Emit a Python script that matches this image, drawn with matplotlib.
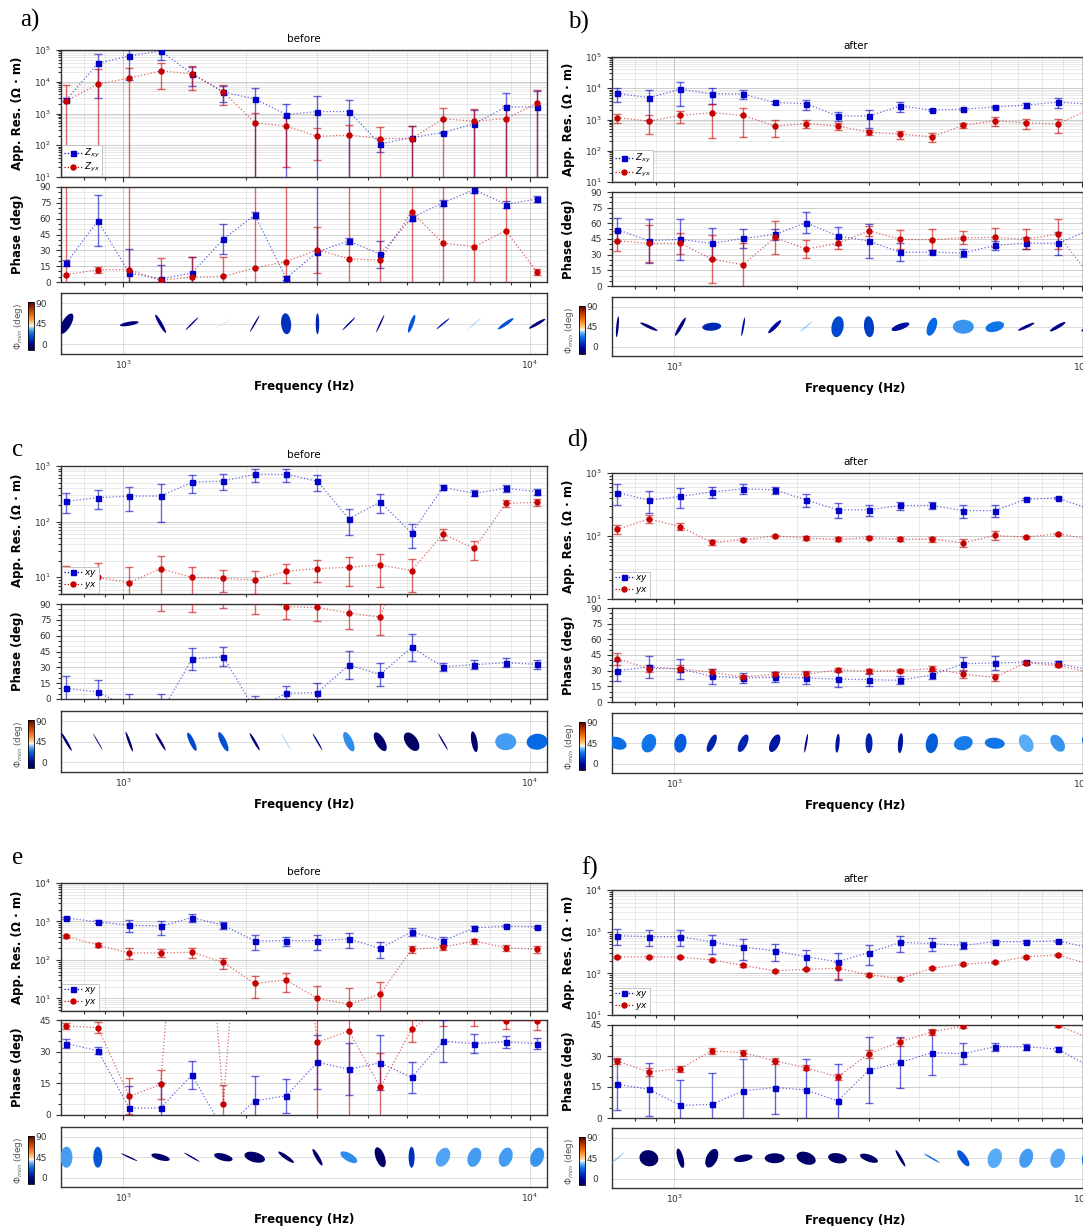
import numpy as np
import matplotlib
matplotlib.use('Agg')
import matplotlib.pyplot as plt
import matplotlib.transforms as mtransforms
from matplotlib.patches import Ellipse
from matplotlib.lines import Line2D
from matplotlib.colors import LinearSegmentedColormap, Normalize
from matplotlib.cm import ScalarMappable
from matplotlib.ticker import MultipleLocator, NullFormatter, LogLocator, FixedLocator

# --- frequencies (Hz), shared by all panels ---
freq = [725, 866, 1035, 1236, 1476, 1764, 2107, 2517, 3007, 3592, 4291, 5126, 6124, 7315, 8739, 10440]

# --- a) before ---
a_res_xy = [2700, 38000, 65000, 93000, 18000, 4700, 2900, 930, 1150, 1150, 110, 175, 250, 480, 1600, 1600]
a_res_xy_err = [300, 35000, 54000, 45000, 10600, 2400, 3300, 1100, 2300, 1600, 48, 225, 10, 800, 2700, 3700]
a_res_yx = [2500, 8500, 13000, 22000, 18000, 4800, 510, 400, 190, 210, 163, 163, 680, 570, 690, 2100]
a_res_yx_err = [5300, 17500, 14500, 16000, 12500, 3000, 540, 380, 155, 240, 220, 240, 820, 830, 1060, 3400]
a_phs_xy = [18, 58, 8.5, 3, 8.5, 40.5, 63.6, 3.5, 28.8, 38.9, 26.3, 60.8, 75, 87.5, 73.4, 78.7]
a_phs_xy_err = [3, 24, 23, 13, 15.5, 14, 3, 2, 70, 3, 13, 3, 3, 3, 3, 3]
a_phs_yx = [6.9, 11.6, 11.6, 1.6, 4.7, 5.3, 13.2, 19.4, 30.4, 22, 20.7, 66.5, 36.7, 33.5, 48.6, 9.4]
a_phs_yx_err = [90, 3, 90, 21, 19, 18, 90, 90, 21.5, 90, 90, 90, 90, 90, 90, 3]
a_ell_major = [23, 2, 19, 21, 18, 18, 19, 21, 21, 18, 19, 19, 17, 17, 19, 19]
a_ell_minor = [9, 0.5, 4, 3.5, 1.5, 1, 1.5, 10, 3.5, 1.5, 1.5, 4, 1.5, 1, 3.5, 3]
a_ell_angle = [60, 30, 10, -60, 45, 30, 60, 95, 90, 45, 65, 70, 40, 40, 35, 30]
a_ell_phimin = [5, 46, 6, 10, 12, 44, 8, 20, 18, 12, 10, 27, 14, 42, 26, 8]

# --- b) after ---
b_res_xy = [6800, 5000, 9300, 6600, 6500, 3500, 3200, 1300, 1300, 2700, 2000, 2150, 2500, 2900, 3600, 3100]
b_res_xy_err = [3300, 4000, 6600, 3500, 2000, 400, 1150, 430, 780, 900, 150, 200, 250, 500, 1300, 1800]
b_res_yx = [1150, 890, 1350, 1650, 1350, 620, 740, 620, 390, 340, 280, 650, 910, 780, 720, 2100]
b_res_yx_err = [350, 550, 550, 1400, 1070, 350, 200, 170, 70, 100, 95, 130, 280, 270, 350, 800]
b_phs_xy = [54, 43.3, 44.6, 40.8, 45.5, 49.4, 60.5, 48, 43, 32.2, 32.5, 31.5, 38.9, 41.1, 40.8, 53.5]
b_phs_xy_err = [11, 21, 19.5, 15, 9, 5, 10, 8.7, 16, 8.7, 2, 4, 4, 6, 10.7, 16]
b_phs_yx = [43.3, 40.8, 40.8, 25.8, 20.4, 46.5, 35.4, 40.8, 52.9, 44.6, 44.3, 46.2, 46.5, 44.9, 49.7, 10.5]
b_phs_yx_err = [9.5, 17.5, 10.3, 23, 21, 15.6, 8.3, 5, 5, 8.7, 10, 6, 8.9, 9.5, 14, 12]
b_ell_major = [21, 19, 21, 19, 19, 18, 16, 21, 21, 19, 19, 21, 19, 18, 18, 18]
b_ell_minor = [2.5, 3, 3.5, 8, 2, 4, 1, 12, 10, 6, 9, 14, 10, 3, 3.5, 3.5]
b_ell_angle = [85, -25, 60, 5, 80, 45, 40, 80, 95, 20, 70, 0, 15, 25, 30, 30]
b_ell_phimin = [8, 6, 8, 18, 14, 12, 40, 24, 22, 14, 30, 36, 32, 10, 10, 10]

# --- c) before ---
c_res_xy = [232, 270, 288, 288, 509, 538, 710, 710, 530, 113, 226, 62, 413, 323, 397, 346]
c_res_xy_err = [91, 100, 130, 190, 185, 175, 185, 190, 170, 55, 85, 29, 50, 40, 60, 45]
c_res_yx = [9.5, 9.9, 8.0, 14.3, 9.9, 9.5, 9.0, 12.8, 14.3, 15.1, 16.6, 13.2, 60, 33, 213, 222]
c_res_yx_err = [6.5, 8, 7, 10, 5.7, 4.1, 4, 4.8, 6, 8, 10, 7.8, 14, 12.5, 30, 33]
c_phs_xy = [10.1, 6.6, -8.4, -14, 37.9, 40, -10, 5.4, 6, 32.2, 23.3, 48.9, 30.6, 32.5, 34.4, 32.8]
c_phs_xy_err = [11.7, 11.4, 12.8, 18.4, 10.3, 9, 13, 7, 8.8, 13.2, 10.7, 13, 3.6, 4, 4, 4]
c_phs_yx = [105, 100, 98, 96, 95, 94, 93, 87.4, 86.7, 81.5, 77.6, 155, 150, 150, 150, 150]
c_phs_yx_err = [5, 5, 5, 12.5, 13, 7.6, 12.8, 12, 12.7, 15.5, 17.2, 10, 10, 10, 10, 10]
c_ell_major = [21, 19, 21, 20, 20, 21, 20, 19, 19, 21, 21, 21, 19, 21, 21, 21]
c_ell_minor = [2.5, 1, 2.5, 2.5, 5, 6, 2.5, 1, 1.5, 8, 9, 12, 1.5, 6, 17, 16]
c_ell_angle = [-60, -60, -70, -60, -65, -65, -60, -60, -60, -65, -60, -55, -60, -80, 0, 5]
c_ell_phimin = [6, 8, 4, 6, 24, 26, 6, 42, 10, 35, 4, 2, 10, 3, 37, 30]

# --- d) after ---
d_res_xy = [490, 370, 425, 500, 560, 540, 375, 260, 260, 305, 305, 253, 253, 385, 400, 270]
d_res_xy_err = [180, 140, 145, 100, 100, 70, 85, 70, 55, 45, 40, 60, 55, 15, 15, 15]
d_res_yx = [128, 187, 141, 79, 87, 100, 93, 89, 94, 89, 89, 78, 102, 96, 109, 89]
d_res_yx_err = [20, 25, 18, 8, 5, 5, 6, 7, 6, 7, 8, 12, 16, 4, 4, 4]
d_phs_xy = [30, 33.5, 31.6, 24.6, 23, 23.6, 23, 22, 21.4, 20.8, 25.9, 36.7, 37.4, 38, 37, 30.7]
d_phs_xy_err = [9.7, 10.5, 10, 7, 4.8, 4.8, 6.2, 7.5, 5.8, 4, 4, 6.7, 6.4, 1.5, 2, 2]
d_phs_yx = [41.2, 32, 32, 28.4, 24, 26.5, 26.5, 30.7, 29.7, 30, 32, 26.8, 23.6, 37.7, 35.1, 28.4]
d_phs_yx_err = [5.8, 3.7, 3, 3.2, 2, 2, 3, 2, 2, 1.5, 2.3, 3.4, 3.6, 1.5, 1.5, 1.5]
d_ell_major = [19, 19, 19, 19, 19, 19, 19, 19, 20, 20, 20, 19, 20, 19, 19, 19]
d_ell_minor = [12, 14, 12, 7, 8, 9, 2, 4, 7, 5, 12, 14, 11, 13, 12, 12]
d_ell_angle = [-20, 70, 80, 65, 65, 65, 80, 85, 90, 85, 80, 15, -5, -60, -55, -60]
d_ell_phimin = [31, 32, 28, 17, 17, 15, 10, 14, 17, 15, 28, 33, 32, 39, 36, 30]

# --- e) before ---
e_res_xy = [1230, 980, 800, 755, 1260, 800, 310, 317, 317, 353, 199, 538, 315, 680, 755, 725]
e_res_xy_err = [100, 80, 280, 300, 300, 170, 130, 80, 140, 145, 90, 120, 70, 100, 50, 60]
e_res_yx = [413, 242, 152, 152, 158, 86, 24.4, 30, 10, 7, 13, 187, 215, 310, 206, 190]
e_res_yx_err = [40, 30, 47, 35, 45, 27, 14, 15, 11, 12, 13, 40, 35, 45, 35, 35]
e_phs_xy = [33.8, 30.5, 3.3, 3.3, 19, -7, 6.7, 9.1, 25, 21.7, 24.7, 17.8, 34.9, 33.8, 34.6, 33.8]
e_phs_xy_err = [2, 1.8, 10.5, 12, 6.5, 3, 12, 8, 12.8, 12.3, 13, 7.5, 10, 4.5, 3, 2.5]
e_phs_yx = [42.2, 41.4, 8.8, 14.5, 200, 5, 200, 150, 34.4, 39.8, 13.1, 40.6, 51, 49, 44.5, 44.5]
e_phs_yx_err = [1.5, 2.5, 8.5, 6.7, 10, 9.3, 10, 10, 40, 42, 16.5, 6, 9, 6.8, 3.7, 4]
e_ell_major = [21, 21, 18, 19, 18, 19, 21, 19, 19, 19, 21, 21, 20, 20, 20, 20]
e_ell_minor = [12, 9, 1.5, 6, 1.5, 7, 10, 4, 4, 8, 9, 6, 13, 13, 13, 13]
e_ell_angle = [90, 90, -25, -15, -30, -15, -15, -35, -60, -30, -70, 90, 65, 70, 70, 70]
e_ell_phimin = [37, 27, 6, 4, 8, 4, 3, 4, 4, 35, 3, 20, 38, 37, 37, 36]

# --- f) after ---
f_res_xy = [800, 760, 760, 565, 430, 345, 250, 190, 315, 555, 515, 470, 575, 575, 600, 415]
f_res_xy_err = [330, 310, 310, 270, 220, 150, 120, 120, 160, 230, 180, 80, 40, 40, 40, 30]
f_res_yx = [250, 250, 245, 210, 155, 115, 125, 132, 92, 75, 132, 166, 183, 250, 275, 166]
f_res_yx_err = [15, 15, 15, 15, 10, 8, 8, 60, 8, 6, 8, 10, 10, 15, 15, 10]
f_phs_xy = [16.3, 13.9, 6.1, 6.6, 13.1, 14.7, 13.6, 8.3, 23.1, 26.9, 31.6, 31.1, 34.5, 34.5, 33.3, 25]
f_phs_xy_err = [12.3, 12.7, 12.2, 15, 15.4, 12.7, 15, 17.7, 15.9, 12.2, 10.8, 5.2, 2, 1.5, 1, 2.5]
f_phs_yx = [27.5, 22.3, 23.9, 32.5, 31.6, 27.7, 24.3, 19.9, 31.1, 36.9, 41.7, 44.5, 47, 48, 45, 38.5]
f_phs_yx_err = [1.5, 1.8, 1.5, 1.5, 1.5, 1.5, 1.2, 1.5, 2, 2, 1.5, 1, 1, 1, 1, 1]
f_ell_major = [18, 19, 20, 20, 19, 20, 20, 19, 19, 19, 18, 19, 20, 20, 20, 20]
f_ell_minor = [1, 16, 6, 11, 7, 10, 12, 10, 7, 3, 1.5, 7, 14, 13, 14, 14]
f_ell_angle = [40, -15, -75, 65, 10, 0, -20, -10, -20, -60, -30, -55, 75, 70, 70, 75]
f_ell_phimin = [40, 3, 4, 4, 4, 3, 3, 3, 3, 4, 30, 27, 39, 37, 38, 32]

# --- figure setup ---
W, H = 1083, 1226
fig = plt.figure(figsize=(W / 100, H / 100), dpi=100)
plt.rcParams['font.family'] = ['DejaVu Sans']

C_XY = (0.0, 0.0, 0.78)
C_YX = (0.78, 0.0, 0.0)
TXT = '#333333'

cmap = LinearSegmentedColormap.from_list('phimin', [
    (0.0, '#00005a'), (0.12, '#000090'), (0.25, '#0040c8'), (0.35, '#0a70e8'),
    (0.43, '#55aaf5'), (0.49, '#cfe6ff'), (0.5, '#ffffff'), (0.53, '#ffe2b0'),
    (0.66, '#ff9020'), (0.82, '#cc4000'), (1.0, '#5a0000')])
norm = Normalize(0, 90)
XLIM = (703, 11040)


def px_axes(x0, x1, y0, y1):
    return fig.add_axes([x0 / W, 1 - y1 / H, (x1 - x0) / W, (y1 - y0) / H])


def base_style(ax):
    ax.set_xscale('log')
    ax.set_xlim(*XLIM)
    ax.grid(True, which='major', color=(.25, .25, .25), alpha=.3, lw=.6)
    ax.grid(True, which='minor', color=(.25, .25, .25), alpha=.15, lw=.5)
    ax.tick_params(which='both', labelsize=6.5, colors=TXT, width=.8)
    ax.tick_params(which='major', length=3.5)
    ax.tick_params(which='minor', length=2)
    for s in ax.spines.values():
        s.set_color(TXT)
        s.set_linewidth(1.0)
    ax.tick_params(axis='x', labelbottom=False)


def draw_series(ax, y, err, color, marker):
    ax.errorbar(freq, y, yerr=err, fmt='none', ecolor=color, elinewidth=1,
                capsize=3, capthick=1, alpha=.6, zorder=3)
    ax.plot(freq, y, ls=':', lw=.9, color=color, alpha=.6, zorder=4)
    ax.plot(freq, y, ls='none', marker=marker, ms=3.6, color=color, zorder=5)


def panel(x0, x1, res_y, phs_y, ell_y, title, letter, letter_xy, res_lim, phs_max,
          labels, res_xy, res_xy_err, res_yx, res_yx_err, phs_xy, phs_xy_err,
          phs_yx, phs_yx_err, ell_major, ell_minor, ell_angle, ell_phimin):
    lab_x = -37 / (x1 - x0)

    # apparent resistivity
    ax1 = px_axes(x0, x1, *res_y)
    base_style(ax1)
    ax1.set_yscale('log')
    draw_series(ax1, res_xy, res_xy_err, C_XY, 's')
    draw_series(ax1, res_yx, res_yx_err, C_YX, 'o')
    ax1.set_ylim(*res_lim)
    ax1.yaxis.set_major_locator(LogLocator(base=10))
    ax1.yaxis.set_minor_locator(LogLocator(base=10, subs=np.arange(2, 10)))
    ax1.yaxis.set_minor_formatter(NullFormatter())
    ax1.set_ylabel('App. Res. (Ω · m)', fontsize=8.5, fontweight='bold')
    ax1.yaxis.set_label_coords(lab_x, 0.5)
    ax1.set_title(title, fontsize=7.5, pad=6)
    handles = [Line2D([], [], color=C_XY, ls=':', marker='s', ms=3.6, lw=.9),
               Line2D([], [], color=C_YX, ls=':', marker='o', ms=3.6, lw=.9)]
    leg = ax1.legend(handles, labels, loc='lower left', fontsize=6.5, labelspacing=.1,
                     borderpad=.2, handlelength=2.0, handletextpad=.3, borderaxespad=.1,
                     framealpha=1, fancybox=False)
    leg.get_frame().set_edgecolor('#bbbbbb')
    leg.get_frame().set_linewidth(.6)

    # phase
    ax2 = px_axes(x0, x1, *phs_y)
    base_style(ax2)
    draw_series(ax2, phs_xy, phs_xy_err, C_XY, 's')
    draw_series(ax2, phs_yx, phs_yx_err, C_YX, 'o')
    ax2.set_ylim(0, phs_max)
    ax2.yaxis.set_major_locator(MultipleLocator(15))
    ax2.yaxis.set_minor_locator(MultipleLocator(5))
    ax2.set_ylabel('Phase (deg)', fontsize=8.5, fontweight='bold')
    ax2.yaxis.set_label_coords(lab_x, 0.5)

    # phase tensor ellipses
    ax3 = px_axes(x0, x1, *ell_y)
    ax3.set_xscale('log')
    ax3.set_autoscale_on(False)
    ax3.set_xlim(*XLIM)
    ax3.set_ylim(-21, 112)
    for f, mj, mn, ang, pm in zip(freq, ell_major, ell_minor, ell_angle, ell_phimin):
        tr = fig.dpi_scale_trans + mtransforms.ScaledTranslation(f, 45, ax3.transData)
        ax3.add_patch(Ellipse((0, 0), mj / 100, mn / 100, angle=ang, transform=tr,
                              facecolor=cmap(norm(pm)), edgecolor='none', zorder=3))
    ax3.yaxis.set_major_locator(FixedLocator([0, 45, 90]))
    ax3.xaxis.set_minor_formatter(NullFormatter())
    ax3.tick_params(which='both', length=0, labelsize=6.5, colors=TXT)
    ax3.tick_params(axis='y', pad=10)
    ax3.grid(True, which='major', color=(.25, .25, .25), alpha=.2, lw=.6)
    for s in ax3.spines.values():
        s.set_color(TXT)
        s.set_linewidth(1.0)
    ax3.set_xlabel('Frequency (Hz)', fontsize=8.5, fontweight='bold', labelpad=6)

    # colorbar
    cax = px_axes(x0 - 33, x0 - 27.5, ell_y[0] + 9, ell_y[0] + 57)
    cb = fig.colorbar(ScalarMappable(norm=norm, cmap=cmap), cax=cax, ticks=[])
    cb.outline.set_linewidth(.6)
    cax.set_ylabel('$\\Phi_{min}$ (deg)', fontsize=6.5, color='#555555', labelpad=2)
    cax.yaxis.set_label_position('left')

    fig.text(letter_xy[0] / W, 1 - letter_xy[1] / H, letter, fontsize=18,
             family='Liberation Serif', ha='center', va='center')


panel(61, 547, (50, 177), (187, 282), (293, 354), 'before', 'a)', (30, 20), (10, 1e5), 90,
      ['$Z_{xy}$', '$Z_{yx}$'], a_res_xy, a_res_xy_err, a_res_yx, a_res_yx_err,
      a_phs_xy, a_phs_xy_err, a_phs_yx, a_phs_yx_err,
      a_ell_major, a_ell_minor, a_ell_angle, a_ell_phimin)
panel(612, 1099, (57, 182), (192, 286), (297, 356), 'after', 'b)', (578, 22), (10, 1e5), 90,
      ['$Z_{xy}$', '$Z_{yx}$'], b_res_xy, b_res_xy_err, b_res_yx, b_res_yx_err,
      b_phs_xy, b_phs_xy_err, b_phs_yx, b_phs_yx_err,
      b_ell_major, b_ell_minor, b_ell_angle, b_ell_phimin)
panel(61, 547, (466, 594), (604, 699), (711, 772), 'before', 'c', (18, 450), (5, 1e3), 90,
      ['$xy$', '$yx$'], c_res_xy, c_res_xy_err, c_res_yx, c_res_yx_err,
      c_phs_xy, c_phs_xy_err, c_phs_yx, c_phs_yx_err,
      c_ell_major, c_ell_minor, c_ell_angle, c_ell_phimin)
panel(612, 1099, (473, 599), (608, 702), (713, 773), 'after', 'd)', (578, 440), (10, 1e3), 90,
      ['$xy$', '$yx$'], d_res_xy, d_res_xy_err, d_res_yx, d_res_yx_err,
      d_phs_xy, d_phs_xy_err, d_phs_yx, d_phs_yx_err,
      d_ell_major, d_ell_minor, d_ell_angle, d_ell_phimin)
panel(61, 547, (883, 1011), (1020, 1115), (1127, 1187), 'before', 'e', (18, 858), (4.7, 1e4), 45,
      ['$xy$', '$yx$'], e_res_xy, e_res_xy_err, e_res_yx, e_res_yx_err,
      e_phs_xy, e_phs_xy_err, e_phs_yx, e_phs_yx_err,
      e_ell_major, e_ell_minor, e_ell_angle, e_ell_phimin)
panel(612, 1099, (890, 1015), (1025, 1118), (1128, 1188), 'after', 'f)', (590, 868), (10, 1e4), 45,
      ['$xy$', '$yx$'], f_res_xy, f_res_xy_err, f_res_yx, f_res_yx_err,
      f_phs_xy, f_phs_xy_err, f_phs_yx, f_phs_yx_err,
      f_ell_major, f_ell_minor, f_ell_angle, f_ell_phimin)

fig.savefig('out.png', dpi=100)
